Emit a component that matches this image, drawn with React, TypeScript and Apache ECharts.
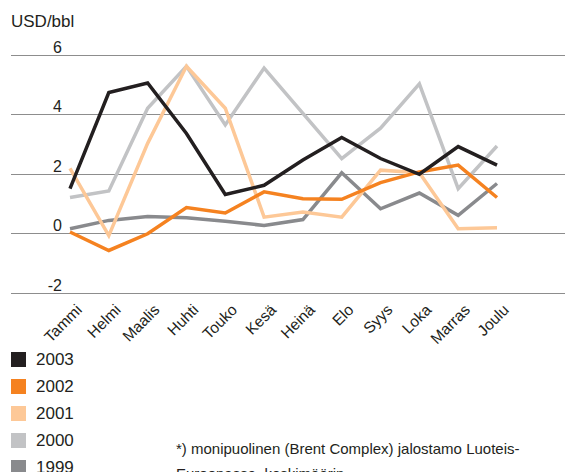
import React, { useEffect, useRef } from "react";
import * as echarts from "echarts";

const months = ["Tammi", "Helmi", "Maalis", "Huhti", "Touko", "Kesä", "Heinä", "Elo", "Syys", "Loka", "Marras", "Joulu"];
const yearNames = ["2003", "2002", "2001", "2000", "1999"];
const y2003 = [1.51, 4.74, 5.06, 3.36, 1.31, 1.62, 2.47, 3.23, 2.52, 1.99, 2.92, 2.3];
const y2002 = [0.05, -0.57, -0.01, 0.87, 0.69, 1.4, 1.17, 1.15, 1.71, 2.07, 2.3, 1.21];
const y2001 = [2.19, -0.07, 3.03, 5.62, 4.21, 0.55, 0.72, 0.55, 2.13, 2.04, 0.16, 0.19];
const y2000 = [1.21, 1.43, 4.21, 5.62, 3.65, 5.56, 4.04, 2.52, 3.54, 5.03, 1.51, 2.94];
const y1999 = [0.16, 0.44, 0.57, 0.53, 0.41, 0.27, 0.47, 2.04, 0.83, 1.36, 0.61, 1.68];
const yTicks = { min: -2, max: 6, interval: 2 };
const unitLabel = "USD/bbl";
const footnote = "*) monipuolinen (Brent Complex) jalostamo Luoteis-\nEuroopassa, keskimäärin";

const colors: Record<string, string> = {
  "2003": "#231f20",
  "2002": "#f58220",
  "2001": "#fdc897",
  "2000": "#c2c3c5",
  "1999": "#898a8d",
};

const FONT = "'Liberation Sans', Arial, Helvetica, sans-serif";
const TXT = "#231f20";

export default function App() {
  const ref = useRef<HTMLDivElement>(null);
  useEffect(() => {
    if (!ref.current) return;
    const chart = echarts.init(ref.current, undefined, { renderer: "svg" });
    const seriesData: [string, number[]][] = [
      ["1999", y1999],
      ["2000", y2000],
      ["2001", y2001],
      ["2002", y2002],
      ["2003", y2003],
    ];
    chart.setOption({
      animation: false,
      textStyle: { fontFamily: FONT },
      title: {
        text: unitLabel,
        left: 11,
        top: 13,
        padding: 0,
        textStyle: { fontFamily: FONT, fontSize: 17, fontWeight: "normal", color: TXT },
      },
      grid: [
        { left: 11, right: 0, top: 55, bottom: 179 },
        { left: 70, right: 68, top: 55, bottom: 179 },
        { left: 79, right: 59, top: 55, bottom: 179 },
      ],
      xAxis: [
        { gridIndex: 0, type: "category", data: months, show: false, boundaryGap: false },
        { gridIndex: 1, type: "category", data: months, show: false, boundaryGap: false },
        {
          gridIndex: 2,
          type: "category",
          data: months,
          boundaryGap: false,
          position: "bottom",
          axisLine: { show: false },
          axisTick: { show: false },
          splitLine: { show: false },
          axisLabel: {
            rotate: 45,
            margin: 14,
            interval: 0,
            fontSize: 15.5,
            color: TXT,
            fontFamily: FONT,
          },
        },
      ],
      yAxis: [
        {
          gridIndex: 0,
          type: "value",
          min: yTicks.min,
          max: yTicks.max,
          interval: yTicks.interval,
          axisLine: { show: false },
          axisTick: { show: false },
          splitLine: { show: true, lineStyle: { color: "#8d8d8d", width: 1.2 } },
          axisLabel: {
            margin: -51,
            align: "right",
            verticalAlign: "bottom",
            fontSize: 16,
            color: TXT,
            fontFamily: FONT,
          },
        },
        { gridIndex: 1, type: "value", min: yTicks.min, max: yTicks.max, interval: yTicks.interval, show: false },
        { gridIndex: 2, type: "value", min: yTicks.min, max: yTicks.max, interval: yTicks.interval, show: false },
      ],
      legend: {
        orient: "vertical",
        left: 11,
        top: 351,
        height: 200,
        padding: 0,
        itemWidth: 15,
        itemHeight: 15,
        itemGap: 10,
        icon: "rect",
        data: yearNames,
        textStyle: { fontSize: 17, color: TXT, fontFamily: FONT, padding: [0, 0, 0, 5] },
      },
      graphic: [
        {
          type: "text",
          left: 176,
          top: 436,
          style: {
            text: footnote,
            font: `15px ${FONT}`,
            fill: TXT,
            lineHeight: 25,
          },
        },
      ],
      series: seriesData.map(([name, data]) => ({
        name,
        type: "line",
        xAxisIndex: 1,
        yAxisIndex: 1,
        data,
        showSymbol: false,
        symbol: "none",
        color: colors[name],
        lineStyle: { width: 3.5, color: colors[name], join: "miter" },
      })),
    });
    return () => chart.dispose();
  }, []);
  return <div ref={ref} style={{ width: 565, height: 472, position: "absolute", left: 0, top: 0, overflow: "hidden" }} />;
}
